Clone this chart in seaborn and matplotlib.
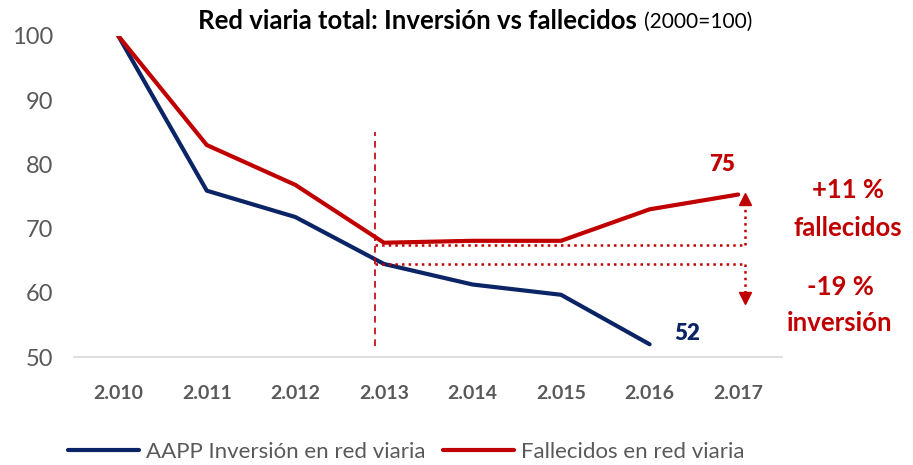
import pandas as pd
import numpy as np
import matplotlib
matplotlib.use('Agg')
import matplotlib.pyplot as plt
import seaborn as sns

# Data (index 2000=100)
years = ['2.010', '2.011', '2.012', '2.013', '2.014', '2.015', '2.016', '2.017']
inversion = [100, 75.9, 71.8, 64.5, 61.3, 59.7, 52.0, np.nan]
fallecidos = [100, 83.0, 76.8, 67.8, 68.1, 68.1, 73.0, 75.3]
series_names = ['AAPP Inversión en red viaria', 'Fallecidos en red viaria']

BLUE = '#0B2466'
RED = '#C00000'
GREY = '#595959'

sns.set_style('white')
plt.rcParams['font.family'] = ['Lato', 'DejaVu Sans']

df = pd.DataFrame({'year': years * 2,
                   'value': inversion + fallecidos,
                   'serie': [series_names[0]] * len(years) + [series_names[1]] * len(years)})
df['pos'] = list(range(len(years))) * 2

fig = plt.figure(figsize=(9.13, 4.65), dpi=100)
ax = fig.add_axes([0.081, 0.232, 0.776, 0.691])

sns.lineplot(data=df, x='pos', y='value', hue='serie', palette=[BLUE, RED],
             linewidth=3, ax=ax, legend=True)

ax.set_xlim(-0.5, 7.5)
ax.set_ylim(50, 100)
ax.set_yticks([50, 60, 70, 80, 90, 100])
ax.set_xticks(range(len(years)))
ax.set_xticklabels(years, fontweight='bold', fontsize=14, color=GREY)
ax.tick_params(axis='y', labelsize=17, labelcolor=GREY, length=0, pad=15)
ax.tick_params(axis='x', length=0, pad=20)
ax.set_xlabel('')
ax.set_ylabel('')
for s in ['top', 'right', 'left']:
    ax.spines[s].set_visible(False)
ax.spines['bottom'].set_color('#D9D9D9')
ax.spines['bottom'].set_linewidth(1.2)

# Annotations
x0 = 2.9
x_arrow = 7.08
ax.plot([x0, x0], [51.8, 85.0], ls=(0, (4, 3)), color=RED, lw=1.2, clip_on=False)
ax.plot([x0, x_arrow], [fallecidos[3] - 0.3, fallecidos[3] - 0.3], ls=':', color=RED, lw=1.8, clip_on=False)
ax.plot([x0, x_arrow], [inversion[3], inversion[3]], ls=':', color=RED, lw=1.8, clip_on=False)
ax.plot([x_arrow, x_arrow], [fallecidos[3] - 0.3, 74.0], ls=':', color=RED, lw=1.8, clip_on=False)
ax.plot([x_arrow, x_arrow], [inversion[3], 59.8], ls=':', color=RED, lw=1.8, clip_on=False)
ax.plot([x_arrow], [74.6], marker='^', markersize=9, color=RED, clip_on=False)
ax.plot([x_arrow], [59.2], marker='v', markersize=9, color=RED, clip_on=False)

ax.text(6.82, 79.9, '75', color=RED, fontsize=16, fontweight='heavy', ha='center', va='center')
ax.text(6.42, 53.7, '52', color=BLUE, fontsize=16, fontweight='heavy', ha='center', va='center')
ax.text(8.24, 76.0, '+11 %', color=RED, fontsize=18.5, fontweight='bold', ha='center', va='center', clip_on=False)
ax.text(8.24, 70.1, 'fallecidos', color=RED, fontsize=18.5, fontweight='bold', ha='center', va='center', clip_on=False)
ax.text(8.15, 60.9, '-19 %', color=RED, fontsize=18.5, fontweight='bold', ha='center', va='center', clip_on=False)
ax.text(8.15, 55.3, 'inversión', color=RED, fontsize=18.5, fontweight='bold', ha='center', va='center', clip_on=False)

# Title
fig.text(0.698, 0.955, 'Red viaria total: Inversión vs fallecidos', fontsize=18.5, fontweight='bold',
         color='black', ha='right', va='center')
fig.text(0.705, 0.952, '(2000=100)', fontsize=15, color='black', ha='left', va='center')

# Legend
handles, labels = ax.get_legend_handles_labels()
ax.legend(handles, labels, loc='center', bbox_to_anchor=(0.445, 0.028), bbox_transform=fig.transFigure,
          ncol=2, frameon=False, fontsize=16, labelcolor=GREY, handlelength=3.2,
          handletextpad=0.3, columnspacing=0.8)

fig.savefig('out.png', dpi=100)
